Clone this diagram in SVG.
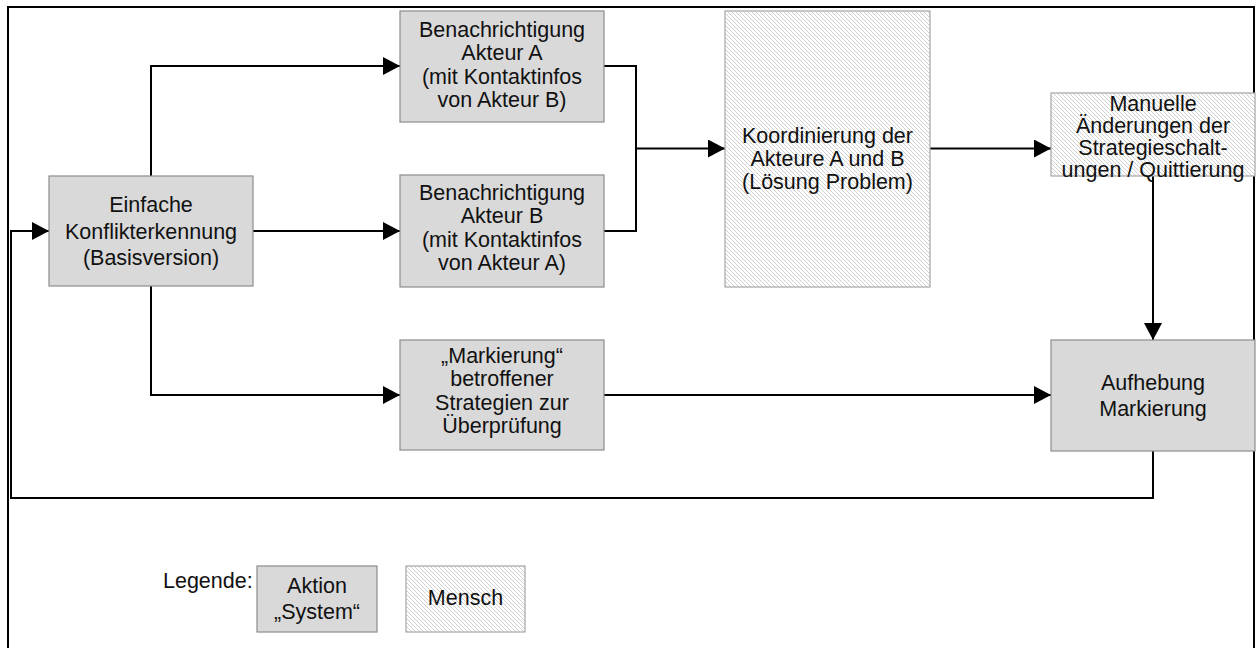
<svg xmlns="http://www.w3.org/2000/svg" width="1257" height="648" viewBox="0 0 1257 648">
<defs>
<pattern id="hatch" patternUnits="userSpaceOnUse" width="4" height="4">
<rect width="4" height="4" fill="#ffffff"/>
<path d="M-1,-1 L5,5 M-1,3 L1,5 M3,-1 L5,1" stroke="#c4c4c4" stroke-width="0.8"/>
</pattern>
<marker id="arr" markerUnits="userSpaceOnUse" markerWidth="18" markerHeight="18" refX="17" refY="9" orient="auto">
<path d="M0,0 L17,9 L0,18 z" fill="#000"/>
</marker>
<style>
.sys{fill:#d9d9d9;stroke:#8c8c8c;stroke-width:1.2}
.hum{fill:url(#hatch);stroke:#a6a6a6;stroke-width:1.2}
text{font-family:"Liberation Sans",Arial,sans-serif;font-size:21.5px;fill:#111;text-anchor:middle}
.c{fill:none;stroke:#000;stroke-width:2}
</style>
</defs>
<rect x="8" y="7" width="1246" height="700" fill="#fff" stroke="#000" stroke-width="2"/>
<g id="connectors">
<path class="c" d="M151,176 V66 H400" marker-end="url(#arr)"/>
<path class="c" d="M253,231 H400" marker-end="url(#arr)"/>
<path class="c" d="M151,286 V395 H400" marker-end="url(#arr)"/>
<path class="c" d="M604,66 H636 V231 H604"/>
<path class="c" d="M636,148.5 H725" marker-end="url(#arr)"/>
<path class="c" d="M930,148.5 H1051" marker-end="url(#arr)"/>
<path class="c" d="M1153,176 V340" marker-end="url(#arr)"/>
<path class="c" d="M604,395 H1051" marker-end="url(#arr)"/>
<path class="c" d="M1153,451 V498 H11 V231 H49" marker-end="url(#arr)"/>
</g>
<g id="einfache">
<rect class="sys" x="49" y="176" width="204" height="110"/>
<text x="151" y="212">Einfache</text>
<text x="151" y="239">Konflikterkennung</text>
<text x="151" y="265">(Basisversion)</text>
</g>
<g id="benachA">
<rect class="sys" x="400" y="11" width="204" height="111"/>
<text x="502" y="36.5">Benachrichtigung</text>
<text x="502" y="60">Akteur A</text>
<text x="502" y="83.5">(mit Kontaktinfos</text>
<text x="502" y="107">von Akteur B)</text>
</g>
<g id="benachB">
<rect class="sys" x="400" y="175" width="204" height="112"/>
<text x="502" y="199.5">Benachrichtigung</text>
<text x="502" y="223">Akteur B</text>
<text x="502" y="246.5">(mit Kontaktinfos</text>
<text x="502" y="270">von Akteur A)</text>
</g>
<g id="markierung">
<rect class="sys" x="400" y="340" width="204" height="110"/>
<text x="502" y="362.5">„Markierung“</text>
<text x="502" y="386">betroffener</text>
<text x="502" y="409.5">Strategien zur</text>
<text x="502" y="433">Überprüfung</text>
</g>
<g id="koordinierung">
<rect class="hum" x="725" y="11" width="205" height="276"/>
<text x="827.5" y="142.5">Koordinierung der</text>
<text x="827.5" y="165.5">Akteure A und B</text>
<text x="827.5" y="188.5">(Lösung Problem)</text>
</g>
<g id="manuelle">
<rect class="hum" x="1051" y="93" width="204" height="83"/>
<text x="1153" y="111">Manuelle</text>
<text x="1153" y="133">Änderungen der</text>
<text x="1153" y="155">Strategieschalt-</text>
<text x="1153" y="177">ungen / Quittierung</text>
</g>
<g id="aufhebung">
<rect class="sys" x="1051" y="340" width="204" height="111"/>
<text x="1153" y="390">Aufhebung</text>
<text x="1153" y="416">Markierung</text>
</g>
<g id="legende">
<text x="163" y="588" style="text-anchor:start">Legende:</text>
<rect class="sys" x="257" y="566" width="120" height="66"/>
<text x="317" y="593">Aktion</text>
<text x="317" y="619">„System“</text>
<rect class="hum" x="406" y="566" width="119" height="66"/>
<text x="465.5" y="605">Mensch</text>
</g>
</svg>
